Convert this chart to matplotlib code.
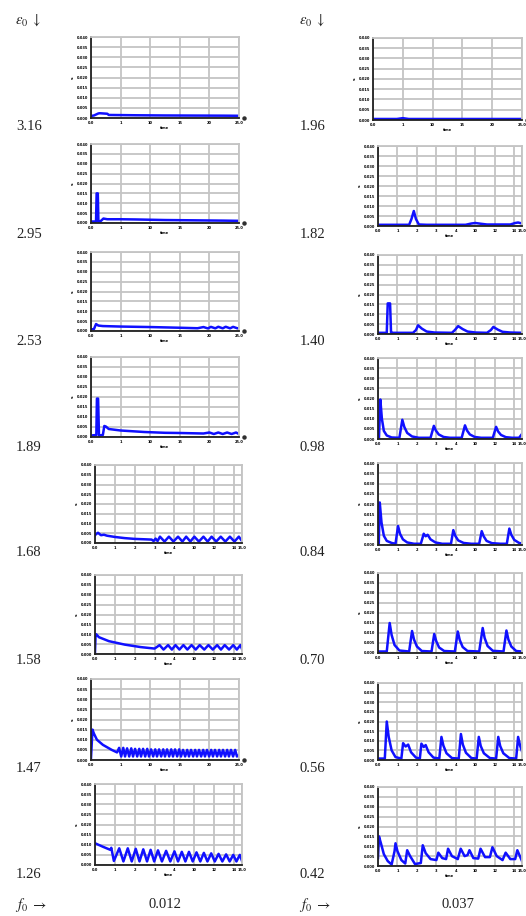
import matplotlib
matplotlib.use("Agg")
import matplotlib.pyplot as plt

plt.rcParams['font.family'] = ['Liberation Serif', 'DejaVu Serif']
plt.rcParams['mathtext.fontset'] = 'stix'

# row labels (epsilon_0) and column labels (f_0)
eps_left = ['3.16', '2.95', '2.53', '1.89', '1.68', '1.58', '1.47', '1.26']
eps_right = ['1.96', '1.82', '1.40', '0.98', '0.84', '0.70', '0.56', '0.42']
f0_values = ['0.012', '0.037']

# x-range of each small plot (5 or 7.4 grid units)
xmax_left = [5.0, 5.0, 5.0, 5.0, 7.4, 7.4, 5.0, 7.4]
xmax_right = [5.0, 7.4, 7.4, 7.4, 7.4, 7.4, 7.4, 7.4]

# left column curves (x in grid units, y in grid units 0..8)
l1_x = [0, 0.1, 0.25, 0.3, 0.55, 0.6, 1.5, 2.5, 3.5, 4.5, 5.0]
l1_y = [0.2, 0.25, 0.45, 0.47, 0.42, 0.3, 0.27, 0.25, 0.24, 0.23, 0.22]

l2_x = [0, 0.17, 0.19, 0.23, 0.25, 0.33, 0.42, 0.55, 1.0, 1.5, 2.5, 3.5, 4.5, 5.0]
l2_y = [0.15, 0.15, 3.0, 3.0, 0.15, 0.2, 0.45, 0.38, 0.38, 0.36, 0.3, 0.27, 0.24, 0.22]

l3_x = [0, 0.1, 0.17, 0.25, 0.4, 1.0, 2.0, 3.0, 3.6, 3.8, 3.95, 4.05, 4.2, 4.3,
        4.45, 4.55, 4.7, 4.8, 4.95, 5.0]
l3_y = [0.15, 0.2, 0.7, 0.55, 0.5, 0.45, 0.4, 0.33, 0.28, 0.4, 0.26, 0.42, 0.27, 0.43,
        0.27, 0.43, 0.27, 0.42, 0.27, 0.3]

l4_x = [0, 0.18, 0.2, 0.24, 0.27, 0.4, 0.45, 0.5, 0.6, 1.0, 1.8, 2.5, 3.0, 3.8,
        4.0, 4.15, 4.3, 4.45, 4.6, 4.75, 4.9, 5.0]
l4_y = [0.15, 0.2, 3.84, 3.84, 0.15, 0.2, 1.1, 1.05, 0.8, 0.65, 0.5, 0.42, 0.4, 0.35,
        0.45, 0.3, 0.45, 0.3, 0.45, 0.3, 0.45, 0.3]

l5_x = [0, 0.05, 0.15, 0.3, 0.45, 0.6, 1.0, 1.5, 2.0, 2.5, 2.85, 2.95, 3.05, 3.15,
        3.27, 3.5, 3.72, 3.95, 4.18, 4.4, 4.59, 4.8, 5.0, 5.23, 5.46, 5.67, 5.87,
        6.1, 6.33, 6.56, 6.79, 7.02, 7.24, 7.4]
l5_y = [0.8, 0.9, 1.05, 0.8, 0.85, 0.75, 0.62, 0.5, 0.42, 0.38, 0.35, 0.2, 0.45, 0.2,
        0.65, 0.15, 0.65, 0.15, 0.65, 0.15, 0.65, 0.15, 0.65, 0.15, 0.65, 0.15, 0.65,
        0.15, 0.65, 0.15, 0.65, 0.15, 0.65, 0.2]

l6_x = [0, 0.03, 0.06, 0.2, 0.7, 1.5, 2.3, 3.0, 3.25, 3.45, 3.68, 3.87, 4.05, 4.25,
        4.45, 4.65, 4.86, 5.07, 5.27, 5.5, 5.71, 5.93, 6.15, 6.34, 6.53, 6.75, 6.96,
        7.14, 7.32, 7.4]
l6_y = [0.2, 2.0, 2.0, 1.7, 1.3, 0.95, 0.7, 0.55, 0.9, 0.45, 0.9, 0.45, 0.9, 0.45,
        0.9, 0.45, 0.9, 0.45, 0.9, 0.45, 0.9, 0.45, 0.9, 0.45, 0.9, 0.45, 0.9,
        0.45, 0.9, 0.5]

l7_x = [0, 0.05, 0.1, 0.2, 0.4, 0.7, 0.88,
        0.95, 1.02, 1.09, 1.15, 1.22, 1.29, 1.36, 1.42, 1.49, 1.56, 1.63, 1.69,
        1.76, 1.83, 1.90, 1.96, 2.03, 2.10, 2.17, 2.23, 2.30, 2.37, 2.44, 2.50,
        2.57, 2.64, 2.71, 2.77, 2.84, 2.91, 2.98, 3.04, 3.11, 3.18, 3.25, 3.31,
        3.38, 3.45, 3.52, 3.58, 3.65, 3.72, 3.79, 3.85, 3.92, 3.99, 4.06, 4.12,
        4.19, 4.26, 4.33, 4.39, 4.46, 4.53, 4.60, 4.66, 4.73, 4.80, 4.87, 4.93, 5.0]
l7_y = [0.2, 3.0, 2.6, 2.0, 1.5, 1.0, 0.75,
        1.2, 0.35, 1.2, 0.35, 1.15, 0.35, 1.15, 0.35, 1.1, 0.35, 1.1, 0.35,
        1.1, 0.35, 1.1, 0.35, 1.05, 0.35, 1.05, 0.35, 1.05, 0.35, 1.05, 0.35,
        1.05, 0.35, 1.05, 0.35, 1.05, 0.35, 1.05, 0.35, 1.0, 0.35, 1.0, 0.35,
        1.0, 0.35, 1.0, 0.35, 1.0, 0.35, 1.0, 0.35, 1.0, 0.35, 1.0, 0.35,
        1.0, 0.35, 1.0, 0.35, 1.0, 0.35, 1.0, 0.35, 1.0, 0.35, 1.0, 0.35, 0.5]

l8_x = [0, 0.4, 0.77, 0.82, 0.86, 0.95,
        1.22, 1.43, 1.65, 1.85, 2.05, 2.24, 2.43, 2.62, 2.8, 2.98, 3.17, 3.37,
        3.58, 3.79, 4.0, 4.18, 4.37, 4.55, 4.73, 4.92, 5.11, 5.3, 5.48, 5.66,
        5.85, 6.03, 6.22, 6.41, 6.6, 6.78, 6.96, 7.12, 7.29, 7.4]
l8_y = [2.15, 1.8, 1.5, 1.7, 1.3, 0.4,
        1.65, 0.35, 1.65, 0.35, 1.6, 0.35, 1.55, 0.35, 1.5, 0.35, 1.45, 0.35,
        1.4, 0.35, 1.35, 0.35, 1.3, 0.35, 1.3, 0.35, 1.25, 0.35, 1.2, 0.35,
        1.15, 0.35, 1.1, 0.35, 1.05, 0.35, 1.0, 0.35, 1.0, 0.4]

# right column curves
r1_x = [0, 0.8, 1.0, 1.2, 5.0]
r1_y = [0.1, 0.1, 0.18, 0.1, 0.1]

r2_x = [0, 1.6, 1.72, 1.84, 1.95, 2.1, 2.5, 4.5, 4.8, 5.0, 5.3, 5.6, 6.8, 7.05, 7.2, 7.4]
r2_y = [0.12, 0.12, 0.7, 1.5, 0.7, 0.15, 0.12, 0.12, 0.25, 0.3, 0.22, 0.15, 0.15, 0.3, 0.35, 0.25]

r3_x = [0, 0.45, 0.5, 0.62, 0.67, 0.75, 1.8, 1.95, 2.06, 2.25, 2.5, 2.9, 3.8, 3.95,
        4.12, 4.35, 4.6, 5.0, 5.6, 5.8, 5.93, 6.15, 6.4, 6.8, 7.4]
r3_y = [0.12, 0.12, 3.1, 3.1, 0.15, 0.12, 0.12, 0.4, 0.88, 0.55, 0.25, 0.15, 0.12, 0.4,
        0.8, 0.5, 0.25, 0.15, 0.12, 0.4, 0.72, 0.45, 0.22, 0.15, 0.12]

r4_x = [0, 0.05, 0.12, 0.2, 0.3, 0.45, 0.7, 1.1, 1.25, 1.35, 1.5, 1.75, 2.1, 2.7,
        2.87, 2.97, 3.12, 3.37, 3.7, 4.3, 4.47, 4.57, 4.72, 4.97, 5.3, 5.9, 6.07,
        6.17, 6.32, 6.57, 6.9, 7.25, 7.4]
r4_y = [0.12, 0.12, 3.9, 2.0, 0.8, 0.35, 0.15, 0.12, 1.9, 1.2, 0.6, 0.25, 0.12, 0.12,
        1.3, 0.85, 0.45, 0.2, 0.12, 0.12, 1.35, 0.85, 0.45, 0.2, 0.12, 0.12, 1.2,
        0.75, 0.4, 0.18, 0.12, 0.12, 0.5]

r5_x = [0, 0.04, 0.09, 0.18, 0.3, 0.45, 0.7, 0.9, 1.03, 1.13, 1.28, 1.5, 1.85, 2.2,
        2.35, 2.45, 2.55, 2.7, 2.95, 3.3, 3.75, 3.87, 3.97, 4.12, 4.4, 4.8, 5.2,
        5.33, 5.43, 5.58, 5.85, 6.3, 6.62, 6.75, 6.85, 7.0, 7.25, 7.4]
r5_y = [0.12, 0.12, 4.15, 2.2, 0.9, 0.4, 0.2, 0.12, 1.85, 1.1, 0.55, 0.25, 0.12, 0.12,
        1.1, 0.85, 1.0, 0.55, 0.25, 0.12, 0.12, 1.45, 0.9, 0.45, 0.2, 0.12, 0.12,
        1.35, 0.85, 0.4, 0.18, 0.12, 0.12, 1.6, 1.0, 0.5, 0.2, 0.15]

r6_x = [0, 0.45, 0.6, 0.7, 0.85, 1.1, 1.6, 1.75, 1.85, 2.0, 2.25, 2.75, 2.89, 2.99,
        3.14, 3.4, 3.95, 4.1, 4.2, 4.35, 4.6, 5.2, 5.38, 5.48, 5.63, 5.9, 6.45, 6.6,
        6.7, 6.85, 7.1, 7.4]
r6_y = [0.15, 0.15, 3.0, 1.8, 0.8, 0.25, 0.15, 2.2, 1.35, 0.65, 0.2, 0.15, 1.9, 1.2,
        0.55, 0.2, 0.15, 2.15, 1.3, 0.6, 0.2, 0.15, 2.5, 1.5, 0.7, 0.22, 0.15, 2.25,
        1.35, 0.65, 0.2, 0.15]

r7_x = [0, 0.35, 0.45, 0.55, 0.7, 0.9, 1.2, 1.29, 1.42, 1.55, 1.7, 1.95, 2.15, 2.23,
        2.35, 2.45, 2.6, 2.85, 3.15, 3.26, 3.36, 3.52, 3.8, 4.15, 4.26, 4.36, 4.52,
        4.8, 5.07, 5.18, 5.28, 5.44, 5.75, 6.07, 6.18, 6.28, 6.44, 6.75, 7.1, 7.2,
        7.3, 7.4]
r7_y = [0.15, 0.15, 4.0, 2.4, 1.0, 0.3, 0.15, 1.75, 1.4, 1.6, 0.8, 0.25, 0.15, 1.7,
        1.35, 1.55, 0.8, 0.25, 0.15, 2.4, 1.5, 0.7, 0.2, 0.15, 2.7, 1.6, 0.75,
        0.2, 0.15, 2.4, 1.45, 0.7, 0.2, 0.15, 2.4, 1.45, 0.7, 0.2, 0.15, 2.4,
        1.5, 0.9]

r8_x = [0, 0.05, 0.15, 0.3, 0.5, 0.7, 0.85, 0.9, 1.0, 1.2, 1.4, 1.5, 1.65, 1.9, 2.2,
        2.3, 2.45, 2.7, 3.0, 3.1, 3.3, 3.5, 3.6, 3.8, 4.1, 4.25, 4.45, 4.6, 4.7, 4.9,
        5.15, 5.27, 5.5, 5.75, 5.88, 6.1, 6.4, 6.56, 6.8, 7.05, 7.16, 7.4]
r8_y = [0.8, 3.0, 2.3, 1.2, 0.5, 0.15, 1.5, 2.3, 1.5, 0.6, 0.25, 1.6, 1.0, 0.2, 0.3,
        2.1, 1.3, 0.7, 0.6, 1.35, 0.8, 0.7, 1.75, 1.0, 0.7, 1.75, 1.0, 1.1, 1.6, 0.8,
        0.75, 1.75, 0.9, 0.9, 1.9, 1.0, 0.6, 1.35, 0.7, 0.7, 1.6, 0.5]

left_curves = [(l1_x, l1_y), (l2_x, l2_y), (l3_x, l3_y), (l4_x, l4_y),
               (l5_x, l5_y), (l6_x, l6_y), (l7_x, l7_y), (l8_x, l8_y)]
right_curves = [(r1_x, r1_y), (r2_x, r2_y), (r3_x, r3_y), (r4_x, r4_y),
                (r5_x, r5_y), (r6_x, r6_y), (r7_x, r7_y), (r8_x, r8_y)]

W, H = 526, 916
fig = plt.figure(figsize=(W / 100, H / 100), dpi=100)
fig.patch.set_facecolor('white')

# panel vertical extents in pixels (top, bottom)
left_rows = [(37, 118), (144, 223), (252, 331), (357, 437),
             (465, 543), (575, 654), (679, 760), (784, 865)]
right_rows = [(38, 120), (146, 226), (255, 334), (358, 439),
              (463, 545), (573, 653), (683, 760), (787, 866)]
label_y = [127, 234, 341, 447, 553, 660, 768, 875]

GRID = '#c4c4c4'
BLUE = '#1010ff'


def small_plot(box, xs, ys, xmax):
    x0, x1, y0, y1 = box
    ax = fig.add_axes([x0 / W, 1 - y1 / H, (x1 - x0) / W, (y1 - y0) / H])
    ax.plot(xs, ys, color=BLUE, lw=1.8, solid_joinstyle='round')
    ax.set_xlim(0, xmax)
    ax.set_ylim(0, 8)
    if xmax == 5.0:
        ticks = [0, 1, 2, 3, 4, 5]
        labels = ['0.0', '1', '10', '15', '20', '25.0']
    else:
        ticks = [0, 1, 2, 3, 4, 5, 6, 7, 7.4]
        labels = ['0.0', '1', '2', '3', '4', '10', '12', '14', '15.0']
    ax.set_xticks(ticks)
    ax.set_xticklabels(labels)
    ax.set_yticks(range(9))
    ax.set_yticklabels(['%.3f' % (v * 0.005) for v in range(9)])
    ax.tick_params(length=0, labelsize=2.6, pad=2.0, colors='black')
    for t in ax.get_xticklabels() + ax.get_yticklabels():
        t.set_fontweight('bold')
        t.set_family('DejaVu Sans')
    ax.grid(True, color=GRID, lw=1.3)
    ax.set_axisbelow(True)
    for s in ['top', 'right']:
        ax.spines[s].set_color(GRID)
        ax.spines[s].set_linewidth(1.3)
    for s in ['left', 'bottom']:
        ax.spines[s].set_color('#202020')
        ax.spines[s].set_linewidth(1.3)
    ax.set_ylabel('s', fontsize=3.2, family='DejaVu Sans', fontweight='bold', labelpad=1.5)
    ax.set_xlabel('time', fontsize=2.6, family='DejaVu Sans', fontweight='bold', labelpad=1.0)
    if xmax == 5.0:
        ax.plot([1.035], [0.0], 'o', ms=2.2, color='#303030',
                transform=ax.transAxes, clip_on=False)
    return ax


for i in range(8):
    top, bot = left_rows[i]
    if xmax_left[i] == 5.0:
        box = (91, 239, top, bot)
    else:
        box = (95, 242, top, bot)
    small_plot(box, left_curves[i][0], left_curves[i][1], xmax_left[i])

    top, bot = right_rows[i]
    if xmax_right[i] == 5.0:
        box = (373, 522, top, bot)
    else:
        box = (378, 522, top, bot)
    small_plot(box, right_curves[i][0], right_curves[i][1], xmax_right[i])

    fig.text(16 / W, 1 - label_y[i] / H, eps_left[i], fontsize=10.5,
             ha='left', va='center', color='#222222')
    fig.text(300 / W, 1 - label_y[i] / H, eps_right[i], fontsize=10.5,
             ha='left', va='center', color='#222222')

for xp in [15, 299]:
    fig.text(xp / W, 1 - 20 / H, r'$\epsilon_0\ \downarrow$', fontsize=10.5,
             ha='left', va='center', color='#222222')
    fig.text(xp / W, 1 - 905 / H, r'$f_0\ \rightarrow$', fontsize=10.5,
             ha='left', va='center', color='#222222')

fig.text(165 / W, 1 - 905 / H, f0_values[0], fontsize=10.5, ha='center', va='center', color='#222222')
fig.text(458 / W, 1 - 905 / H, f0_values[1], fontsize=10.5, ha='center', va='center', color='#222222')

fig.savefig('out.png', dpi=100, facecolor='white')
